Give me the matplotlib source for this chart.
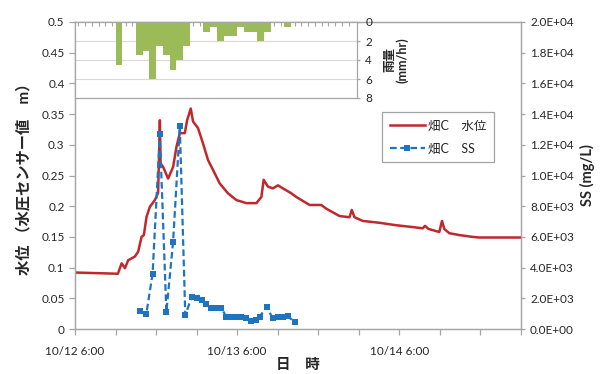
import matplotlib
matplotlib.use("Agg")
import matplotlib.pyplot as plt
from matplotlib.ticker import FuncFormatter, FixedLocator

plt.rcParams['font.family'] = ['Lato', 'Noto Sans CJK JP', 'DejaVu Sans']

# ---- data (time in hours from 10/12 6:00) ----
level_hours = [0, 6.35, 6.9, 7.39, 7.87, 8.86, 9.35, 9.85, 10.19, 10.59, 11.08, 11.82, 12.3, 12.48,
               12.56, 12.66, 13.04, 13.78, 14.52, 15.02, 15.51, 16.25, 16.59, 17.13, 17.47, 18.21,
               18.95, 19.69, 20.43, 21.42, 22.64, 23.88, 25.36, 26.84, 27.58, 27.92, 28.55, 29.29,
               30.03, 30.77, 32.01, 32.75, 34.71, 36.44, 37.18, 39.14, 40.62, 40.96, 41.36, 42.59,
               45.05, 47.52, 49.97, 51.45, 51.8, 52.3, 53.91, 54.31, 54.65, 55.39, 56.87, 58.83,
               59.82, 66.0]
level_m = [0.092, 0.090, 0.107, 0.099, 0.112, 0.118, 0.126, 0.150, 0.153, 0.183, 0.199, 0.210, 0.222, 0.300,
           0.340, 0.270, 0.264, 0.245, 0.264, 0.297, 0.319, 0.319, 0.340, 0.359, 0.338, 0.327,
           0.302, 0.275, 0.259, 0.237, 0.221, 0.210, 0.205, 0.205, 0.215, 0.243, 0.232, 0.229,
           0.234, 0.229, 0.221, 0.215, 0.202, 0.202, 0.196, 0.184, 0.182, 0.194, 0.182, 0.176,
           0.173, 0.169, 0.166, 0.164, 0.168, 0.163, 0.158, 0.176, 0.163, 0.156, 0.153, 0.150,
           0.149, 0.149]

ss_hours = [9.6, 10.56, 11.48, 12.56, 13.52, 14.52, 15.51, 16.32, 17.28, 18.02, 18.72, 19.45,
            20.19, 20.93, 21.67, 22.41, 23.15, 23.88, 24.62, 25.36, 26.1, 26.74, 27.33, 28.36,
            29.25, 29.99, 30.72, 31.46, 32.5]
ss_mgL = [1150, 1000, 3600, 12700, 1100, 5700, 13200, 900, 2100, 2050, 1900, 1600,
          1400, 1400, 1400, 750, 800, 780, 780, 700, 500, 600, 800, 1450,
          700, 780, 780, 850, 450]

rain_hours = [6, 9, 10, 11, 12, 13, 14, 15, 16, 19, 20, 21, 22, 23, 24, 25, 26, 27, 28, 31]
rain_mm = [4.5, 3.5, 3.0, 6.0, 2.5, 3.5, 5.0, 4.0, 2.5, 1.0, 0.5, 2.0, 1.5, 1.5, 0.5, 1.0, 1.0, 2.0, 1.0, 0.5]

x_tick_hours = [0, 6, 12, 18, 24, 30, 36, 42, 48, 54, 60, 66]
x_tick_labels = {0: '10/12 6:00', 24: '10/13 6:00', 48: '10/14 6:00'}
left_ticks = [0, 0.05, 0.1, 0.15, 0.2, 0.25, 0.3, 0.35, 0.4, 0.45, 0.5]
right_ticks = [0, 2000, 4000, 6000, 8000, 10000, 12000, 14000, 16000, 18000, 20000]
rain_ticks = [0, 2, 4, 6, 8]

legend_level = '畑C　水位'
legend_ss = '畑C　SS'

# ---- styling ----
W, H = 603, 374
fig = plt.figure(figsize=(W / 100, H / 100), dpi=100)
spine_c = '#A6A6A6'
txt_c = '#262626'
red = '#C0282D'
blue = '#1F74C0'
green = '#9BBB59'

def fx(px):
    return px / W

def fy(py):
    return 1 - py / H

L, R, T, B = 75, 521, 22, 329
ax = fig.add_axes([fx(L), fy(B), fx(R) - fx(L), fy(T) - fy(B)])
ax.set_xlim(0, 66)
ax.set_ylim(0, 0.5)
ax.plot(level_hours, level_m, color=red, lw=1.8, label=legend_level, zorder=3)

ax.xaxis.set_major_locator(FixedLocator(x_tick_hours))
ax.set_xticklabels([x_tick_labels.get(h, '') for h in x_tick_hours])
ax.yaxis.set_major_locator(FixedLocator(left_ticks))
ax.yaxis.set_major_formatter(FuncFormatter(lambda v, p: '%g' % round(v, 2)))
for s in ax.spines.values():
    s.set_color(spine_c)
    s.set_linewidth(0.9)
ax.tick_params(axis='both', colors=spine_c, labelcolor=txt_c, labelsize=8.5, length=4, width=0.9)
ax.tick_params(axis='x', pad=8)
ax.set_ylabel('水位 （水圧センサー値　m）', fontsize=11, fontweight='bold', color=txt_c, labelpad=7)
ax.set_xlabel('日　時', fontsize=10.5, fontweight='bold', color=txt_c, labelpad=1)

ax2 = ax.twinx()
ax2.set_ylim(0, 20000)
ax2.plot(ss_hours, ss_mgL, color=blue, lw=1.6, ls=(0, (3, 1.6)), marker='s', markersize=4.2,
         markeredgewidth=0, label=legend_ss, zorder=3)
ax2.yaxis.set_major_locator(FixedLocator(right_ticks))
ax2.yaxis.set_major_formatter(FuncFormatter(lambda v, p: '%.1E' % v))
for s in ax2.spines.values():
    s.set_color(spine_c)
    s.set_linewidth(0.9)
ax2.tick_params(axis='y', colors=spine_c, labelcolor=txt_c, labelsize=8.5, length=3, width=0.9)
ax2.set_ylabel('SS (mg/L)', fontsize=10.5, fontweight='bold', color=txt_c, labelpad=4)

# rain inset
RL, RR, RT, RB = 75, 357, 22, 98
axr = fig.add_axes([fx(RL), fy(RB), fx(RR) - fx(RL), fy(RT) - fy(RB)])
axr.set_facecolor('white')
axr.set_xlim(0, (RR - RL) / ((R - L) / 66))
axr.set_ylim(8, 0)
axr.bar(rain_hours, rain_mm, width=1.0, align='edge', color=green, edgecolor='none', zorder=2)
axr.yaxis.set_major_locator(FixedLocator(rain_ticks))
axr.yaxis.tick_right()
axr.yaxis.set_label_position('right')
axr.xaxis.tick_top()
axr.xaxis.set_major_locator(FixedLocator([h + 0.5 for h in range(41)]))
axr.set_xticklabels([])
axr.tick_params(axis='x', direction='in', length=3, colors=spine_c, width=0.8)
axr.tick_params(axis='y', colors=spine_c, labelcolor=txt_c, labelsize=8.5, length=2.5, width=0.9)
axr.grid(axis='y', color='#D9D9D9', lw=0.8, zorder=0)
for s in axr.spines.values():
    s.set_color(spine_c)
    s.set_linewidth(0.9)
axr.set_ylabel('雨量\n(mm/hr)', fontsize=9, fontweight='bold', color=txt_c, labelpad=8,
               linespacing=1.0, rotation=90)

# legend
h1, l1 = ax.get_legend_handles_labels()
h2, l2 = ax2.get_legend_handles_labels()
leg = fig.legend(h1 + h2, l1 + l2, loc='upper left', bbox_to_anchor=(fx(382), fy(112)),
                 fontsize=9, frameon=True, fancybox=False, edgecolor='#8C8C8C',
                 handlelength=2.8, labelspacing=0.9, borderpad=0.6, handletextpad=0.3,
                 borderaxespad=0)
leg.get_frame().set_linewidth(0.9)
for t in leg.get_texts():
    t.set_color(txt_c)

fig.savefig('out.png', dpi=100)
